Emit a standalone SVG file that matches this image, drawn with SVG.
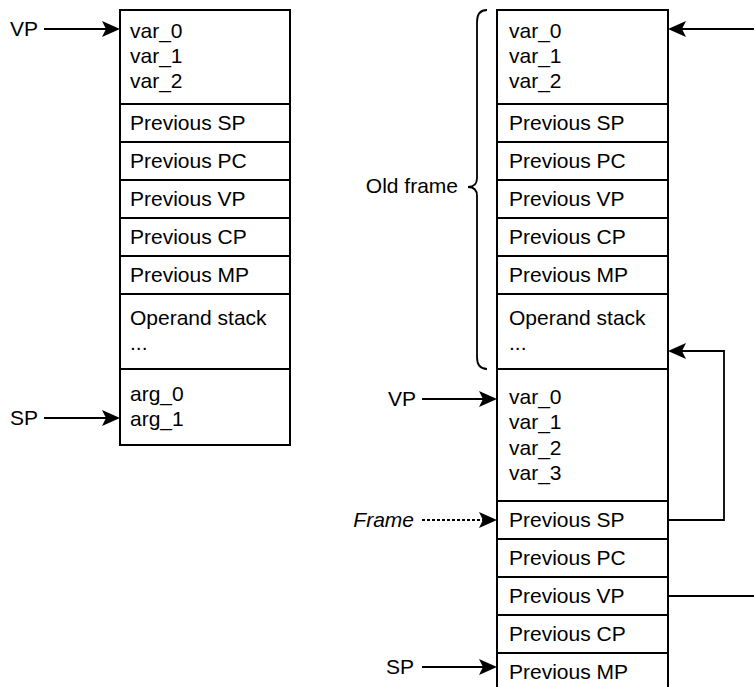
<svg xmlns="http://www.w3.org/2000/svg" xmlns:xlink="http://www.w3.org/1999/xlink" width="754" height="687" viewBox="0 0 754 687">
<defs>
<style>
.box{fill:#fff;stroke:#000;stroke-width:2}
.t{font-family:"Liberation Sans",Arial,sans-serif;font-size:21px;fill:#000}
.e{text-anchor:end}
.c{fill:none;stroke:#000;stroke-width:1.8}
.d{stroke-dasharray:3 2}
</style>
<path id="head" d="M-18,-8 L0,0 L-18,8 L-14,0 Z" fill="#000"/>
</defs>
<rect width="754" height="687" fill="#fff"/>

<g id="left-stack">
<g id="l-vars"><rect class="box" x="120" y="10" width="170" height="94"/><text class="t" x="130" y="38">var_0</text><text class="t" x="130" y="63">var_1</text><text class="t" x="130" y="88">var_2</text></g>
<g id="l-sp"><rect class="box" x="120" y="104" width="170" height="38"/><text class="t" x="130" y="130">Previous SP</text></g>
<g id="l-pc"><rect class="box" x="120" y="142" width="170" height="38"/><text class="t" x="130" y="168">Previous PC</text></g>
<g id="l-vp"><rect class="box" x="120" y="180" width="170" height="38"/><text class="t" x="130" y="206">Previous VP</text></g>
<g id="l-cp"><rect class="box" x="120" y="218" width="170" height="38"/><text class="t" x="130" y="244">Previous CP</text></g>
<g id="l-mp"><rect class="box" x="120" y="256" width="170" height="38"/><text class="t" x="130" y="282">Previous MP</text></g>
<g id="l-ops"><rect class="box" x="120" y="294" width="170" height="75"/><text class="t" x="130" y="325">Operand stack</text><text class="t" x="130" y="350">...</text></g>
<g id="l-args"><rect class="box" x="120" y="369" width="170" height="76"/><text class="t" x="130" y="401">arg_0</text><text class="t" x="130" y="426">arg_1</text></g>
</g>

<g id="right-stack">
<g id="r-vars"><rect class="box" x="497" y="10" width="171" height="94"/><text class="t" x="509" y="38">var_0</text><text class="t" x="509" y="63">var_1</text><text class="t" x="509" y="88">var_2</text></g>
<g id="r-sp"><rect class="box" x="497" y="104" width="171" height="38"/><text class="t" x="509" y="130">Previous SP</text></g>
<g id="r-pc"><rect class="box" x="497" y="142" width="171" height="38"/><text class="t" x="509" y="168">Previous PC</text></g>
<g id="r-vp"><rect class="box" x="497" y="180" width="171" height="38"/><text class="t" x="509" y="206">Previous VP</text></g>
<g id="r-cp"><rect class="box" x="497" y="218" width="171" height="38"/><text class="t" x="509" y="244">Previous CP</text></g>
<g id="r-mp"><rect class="box" x="497" y="256" width="171" height="38"/><text class="t" x="509" y="282">Previous MP</text></g>
<g id="r-ops"><rect class="box" x="497" y="294" width="171" height="75"/><text class="t" x="509" y="325">Operand stack</text><text class="t" x="509" y="350">...</text></g>
<g id="r-vars2"><rect class="box" x="497" y="369" width="171" height="132"/><text class="t" x="509" y="404">var_0</text><text class="t" x="509" y="429">var_1</text><text class="t" x="509" y="455">var_2</text><text class="t" x="509" y="480">var_3</text></g>
<g id="r-sp2"><rect class="box" x="497" y="501" width="171" height="38"/><text class="t" x="509" y="527">Previous SP</text></g>
<g id="r-pc2"><rect class="box" x="497" y="539" width="171" height="38"/><text class="t" x="509" y="565">Previous PC</text></g>
<g id="r-vp2"><rect class="box" x="497" y="577" width="171" height="38"/><text class="t" x="509" y="603">Previous VP</text></g>
<g id="r-cp2"><rect class="box" x="497" y="615" width="171" height="38"/><text class="t" x="509" y="641">Previous CP</text></g>
<g id="r-mp2"><rect class="box" x="497" y="653" width="171" height="38"/><text class="t" x="509" y="679">Previous MP</text></g>
</g>

<g id="old-frame">
<path class="c" d="M487,10 Q477,10 477,22 L477,178 Q477,187 468,187 Q477,187 477,196 L477,357 Q477,369 487,369"/>
<text class="t e" x="458" y="193">Old frame</text>
</g>

<g id="labels">
<text class="t" x="10" y="36">VP</text>
<text class="t" x="10" y="425">SP</text>
<text class="t e" x="416" y="406">VP</text>
<text class="t e" x="414" y="527" font-style="italic">Frame</text>
<text class="t e" x="414" y="674">SP</text>
</g>

<g id="connectors">
<line class="c" x1="44" y1="29" x2="106" y2="29"/>
<use xlink:href="#head" href="#head" transform="translate(120,29)"/>
<line class="c" x1="44" y1="418" x2="106" y2="418"/>
<use xlink:href="#head" href="#head" transform="translate(120,418)"/>
<line class="c" x1="754" y1="29" x2="682" y2="29"/>
<use xlink:href="#head" href="#head" transform="translate(668,29) rotate(180)"/>
<polyline class="c" points="668,520 724,520 724,351 682,351"/>
<use xlink:href="#head" href="#head" transform="translate(668,351) rotate(180)"/>
<line class="c" x1="668" y1="596" x2="754" y2="596"/>
<line class="c" x1="422" y1="399" x2="483" y2="399"/>
<use xlink:href="#head" href="#head" transform="translate(497,399)"/>
<line class="c d" x1="422" y1="520" x2="483" y2="520"/>
<use xlink:href="#head" href="#head" transform="translate(497,520)"/>
<line class="c" x1="422" y1="667" x2="483" y2="667"/>
<use xlink:href="#head" href="#head" transform="translate(497,667)"/>
</g>
</svg>
